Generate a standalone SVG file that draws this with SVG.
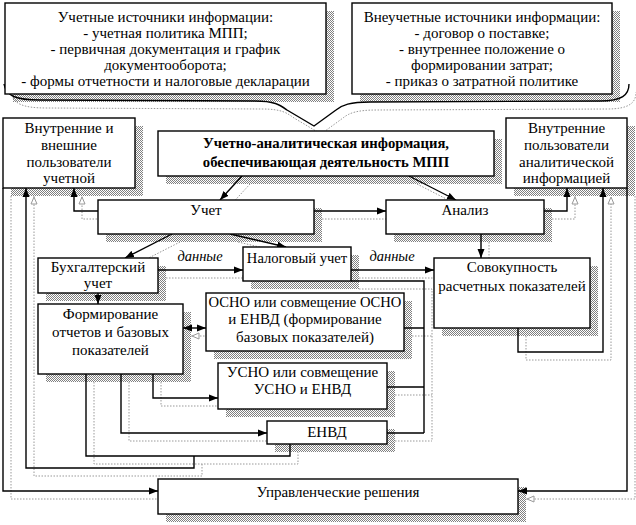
<svg xmlns="http://www.w3.org/2000/svg" width="636" height="525" viewBox="0 0 636 525">
<defs>
<pattern id="hatch" width="2" height="2" patternUnits="userSpaceOnUse">
<rect width="2" height="2" fill="#fff"/>
<rect width="1" height="1" fill="#808080"/>
<rect x="1" y="1" width="1" height="1" fill="#808080"/>
</pattern>
<marker id="ar" markerUnits="userSpaceOnUse" markerWidth="10" markerHeight="8" refX="9" refY="4" orient="auto-start-reverse">
<path d="M0,0.5 L9,4 L0,7.5 z" fill="#000"/>
</marker>
<marker id="ag" markerUnits="userSpaceOnUse" markerWidth="10" markerHeight="8" refX="9" refY="4" orient="auto-start-reverse">
<path d="M1,1 L8,4 L1,7 z" fill="#fff" stroke="#999" stroke-width="1"/>
</marker>
<style>
.box{fill:#fff;stroke:#000;stroke-width:1.4}
.sh{fill:url(#hatch)}
.ln{fill:none;stroke:#000;stroke-width:1.4}
.dl{fill:none;stroke:#999;stroke-width:1;stroke-dasharray:1.5 1.5}
text{font-family:"Liberation Serif","Times New Roman",serif;font-size:15px;fill:#000;text-anchor:middle}
.b{font-weight:bold;font-size:14.7px}
.it{font-style:italic;font-size:14.5px}
.n{font-size:14.6px}
</style>
</defs>
<rect width="636" height="525" fill="#fff"/>

<g id="shadows">
<rect class="sh" x="13" y="11" width="321" height="91"/>
<rect class="sh" x="360" y="11" width="260" height="91"/>
<rect class="sh" x="11" y="126" width="132" height="70"/>
<rect class="sh" x="166" y="139" width="336" height="45"/>
<rect class="sh" x="514" y="126" width="121" height="70"/>
<rect class="sh" x="106" y="208" width="216" height="34"/>
<rect class="sh" x="394" y="208" width="158" height="34"/>
<rect class="sh" x="46" y="266" width="120" height="35"/>
<rect class="sh" x="251" y="255" width="108" height="34"/>
<rect class="sh" x="442" y="266" width="156" height="70"/>
<rect class="sh" x="46" y="312" width="145" height="70"/>
<rect class="sh" x="214" y="301" width="198" height="58"/>
<rect class="sh" x="226" y="371" width="169" height="46"/>
<rect class="sh" x="275" y="429" width="120" height="23"/>
<rect class="sh" x="166" y="487" width="360" height="35"/>
</g>

<g id="connectors">
<path class="dl" d="M11,92 C13,104 23,108 47,108 L262,109 C282,109 287,113 294,118 L321,134 L343,118 C349,113 357,110 377,110 L607,109 C629,109 636,103 636,92"/>
<path class="dl" d="M250,184 L228,208"/>
<path class="dl" d="M417,184 L464,208"/>
<path class="dl" d="M322,219 L394,219"/>
<path class="dl" d="M106,219 L82,219 L82,196" marker-end="url(#ag)"/>
<path class="dl" d="M180,242 L133,266"/>
<path class="dl" d="M238,242 L294,255"/>
<path class="dl" d="M166,278 L251,278" marker-end="url(#ag)"/>
<path class="dl" d="M359,278 L442,278"/>
<path class="dl" d="M489,242 L489,266"/>
<path class="dl" d="M552,219 L575,219 L575,196" marker-end="url(#ag)"/>
<path class="dl" d="M526,336 L526,360 L611,360 L611,196" marker-end="url(#ag)"/>
<path class="dl" d="M191,336 L214,336" marker-start="url(#ag)"/>
<path class="dl" d="M161,382 L161,406 L226,406"/>
<path class="dl" d="M129,382 L129,441 L275,441"/>
<path class="dl" d="M94,382 L94,464 L298,464 L298,452 M202,464 L202,476 L34,476 L34,196" marker-end="url(#ag)"/>
<path class="dl" d="M359,289 L432,289 L432,441 M412,336 L432,336 M395,395 L432,395 M395,441 L432,441"/>
<path class="dl" d="M11,196 L11,499 L166,499"/>
<path class="dl" d="M635,196 L635,499 L526,499" marker-end="url(#ag)"/>

<path class="ln" d="M4,84 C6,96 16,100 40,100 L255,101 C275,101 280,105 287,110 L314,126 L336,110 C342,105 350,102 370,102 L600,101 C622,101 629,95 629,84"/>
<path class="ln" d="M242,176 L220,200" marker-end="url(#ar)"/>
<path class="ln" d="M409,176 L456,200" marker-end="url(#ar)"/>
<path class="ln" d="M314,211 L386,211" marker-end="url(#ar)"/>
<path class="ln" d="M98,211 L74,211 L74,188" marker-end="url(#ar)"/>
<path class="ln" d="M172,234 L125,258" marker-end="url(#ar)"/>
<path class="ln" d="M230,234 L286,247" marker-end="url(#ar)"/>
<path class="ln" d="M158,270 L243,270" marker-end="url(#ar)"/>
<path class="ln" d="M351,270 L434,270" marker-end="url(#ar)"/>
<path class="ln" d="M481,234 L481,258" marker-end="url(#ar)"/>
<path class="ln" d="M544,211 L567,211 L567,188" marker-end="url(#ar)"/>
<path class="ln" d="M518,328 L518,352 L603,352 L603,188" marker-end="url(#ar)"/>
<path class="ln" d="M98,293 L98,304" marker-end="url(#ar)"/>
<path class="ln" d="M183,328 L206,328" marker-start="url(#ar)" marker-end="url(#ar)"/>
<path class="ln" d="M153,374 L153,398 L218,398" marker-end="url(#ar)"/>
<path class="ln" d="M121,374 L121,433 L267,433" marker-end="url(#ar)"/>
<path class="ln" d="M86,374 L86,456 L290,456 L290,444 M194,456 L194,468 L26,468 L26,188" marker-end="url(#ar)"/>
<path class="ln" d="M351,281 L424,281 L424,433 M404,328 L424,328 M387,387 L424,387 M387,433 L424,433"/>
<path class="ln" d="M3,188 L3,491 L158,491" marker-end="url(#ar)"/>
<path class="ln" d="M627,188 L627,491 L518,491" marker-end="url(#ar)"/>
<text class="it" x="200" y="261">данные</text>
<text class="it" x="392" y="261">данные</text>
</g>

<g id="src1">
<rect class="box" x="5" y="3" width="321" height="91"/>
<text x="165.5" y="22">Учетные источники информации:</text>
<text x="165.5" y="38">- учетная политика МПП;</text>
<text x="165.5" y="54">- первичная документация и график</text>
<text x="165.5" y="70">документооборота;</text>
<text x="165.5" y="86">- формы отчетности и налоговые декларации</text>
</g>
<g id="src2">
<rect class="box" x="352" y="3" width="260" height="91"/>
<text x="482" y="22">Внеучетные источники информации:</text>
<text x="482" y="38">- договор о поставке;</text>
<text x="482" y="54">- внутреннее положение о</text>
<text x="482" y="70">формировании затрат;</text>
<text x="482" y="86">- приказ о затратной политике</text>
</g>
<g id="usersL">
<rect class="box" x="3" y="118" width="132" height="70"/>
<text x="69" y="133">Внутренние и</text>
<text x="69" y="150">внешние</text>
<text x="69" y="167">пользователи</text>
<text x="69" y="183">учетной</text>
</g>
<g id="central">
<rect class="box" x="158" y="131" width="336" height="45"/>
<text class="b" x="326" y="148">Учетно-аналитическая информация,</text>
<text class="b" x="326" y="167">обеспечивающая деятельность МПП</text>
</g>
<g id="usersR">
<rect class="box" x="506" y="118" width="121" height="70"/>
<text x="566.5" y="133">Внутренние</text>
<text x="566.5" y="150">пользователи</text>
<text x="566.5" y="167">аналитической</text>
<text x="566.5" y="183">информацией</text>
</g>
<g id="uchet">
<rect class="box" x="98" y="200" width="216" height="34"/>
<text x="206" y="215">Учет</text>
</g>
<g id="analiz">
<rect class="box" x="386" y="200" width="158" height="34"/>
<text x="465" y="215">Анализ</text>
</g>
<g id="buh">
<rect class="box" x="38" y="258" width="120" height="35"/>
<text x="98" y="272">Бухгалтерский</text>
<text x="98" y="288">учет</text>
</g>
<g id="nalog">
<rect class="box" x="243" y="247" width="108" height="34"/>
<text class="n" x="297" y="263">Налоговый учет</text>
</g>
<g id="sovok">
<rect class="box" x="434" y="258" width="156" height="70"/>
<text x="512" y="272">Совокупность</text>
<text x="512" y="291">расчетных показателей</text>
</g>
<g id="form">
<rect class="box" x="38" y="304" width="145" height="70"/>
<text x="110.5" y="319">Формирование</text>
<text x="110.5" y="337">отчетов и базовых</text>
<text x="110.5" y="355">показателей</text>
</g>
<g id="osno">
<rect class="box" x="206" y="293" width="198" height="58"/>
<text class="n" x="305" y="307">ОСНО или совмещение ОСНО</text>
<text x="305" y="324">и ЕНВД (формирование</text>
<text x="305" y="342">базовых показателей)</text>
</g>
<g id="usno">
<rect class="box" x="218" y="363" width="169" height="46"/>
<text x="302.5" y="377">УСНО или совмещение</text>
<text x="302.5" y="394">УСНО и ЕНВД</text>
</g>
<g id="envd">
<rect class="box" x="267" y="421" width="120" height="23"/>
<text x="327" y="437">ЕНВД</text>
</g>
<g id="upr">
<rect class="box" x="158" y="479" width="360" height="35"/>
<text x="338" y="497">Управленческие решения</text>
</g>
</svg>
